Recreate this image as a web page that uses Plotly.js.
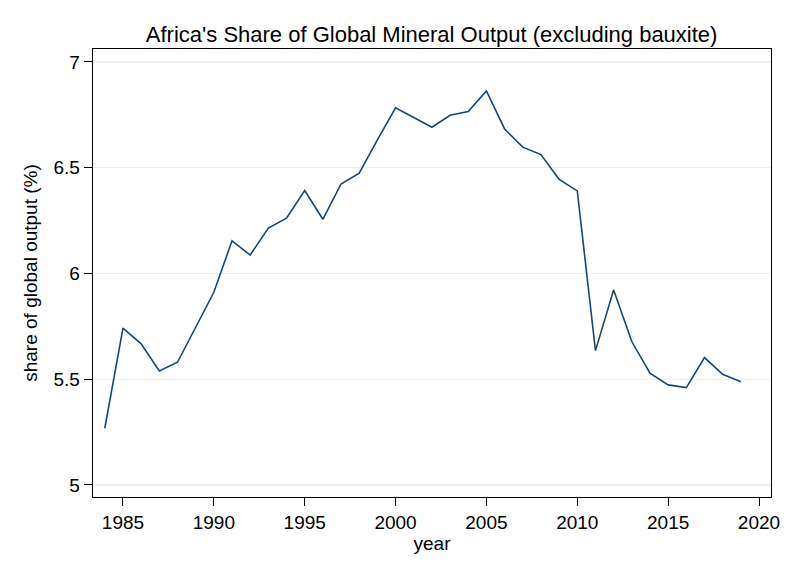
<!DOCTYPE html>
<html>
<head>
<meta charset="utf-8">
<script src="https://cdn.plot.ly/plotly-3.0.1.min.js"></script>
<style>html,body{margin:0;padding:0;background:#fff;}#chart{width:792px;height:576px;}</style>
</head>
<body>
<div id="chart"></div>
<script>
var years = [1984,1985,1986,1987,1988,1989,1990,1991,1992,1993,1994,1995,1996,1997,1998,1999,2000,2001,2002,2003,2004,2005,2006,2007,2008,2009,2010,2011,2012,2013,2014,2015,2016,2017,2018,2019];
var share = [5.268,5.741,5.667,5.539,5.580,5.745,5.911,6.154,6.087,6.214,6.261,6.392,6.256,6.423,6.474,6.631,6.783,6.737,6.691,6.748,6.765,6.863,6.683,6.597,6.562,6.445,6.390,5.635,5.922,5.678,5.528,5.473,5.460,5.602,5.523,5.488];
var xTicks = [1985,1990,1995,2000,2005,2010,2015,2020];
var yTicks = [5,5.5,6,6.5,7];
var yTickText = ["5","5.5","6","6.5","7"];

var font = "Liberation Sans, Arial, Helvetica, sans-serif";
var trace = {
  x: years, y: share, type: "scatter", mode: "lines",
  line: {color: "#1a476f", width: 1.6},
  hoverinfo: "x+y"
};
var layout = {
  width: 792, height: 576,
  margin: {l: 93, r: 21, t: 49, b: 79},
  paper_bgcolor: "#ffffff", plot_bgcolor: "#ffffff",
  font: {family: font, color: "#000000", size: 19},
  title: {text: "Africa's Share of Global Mineral Output (excluding bauxite)", font: {size: 22, family: font, color: "#000"}, x: 0.545, xanchor: "center", y: 0.94, yanchor: "middle"},
  showlegend: false,
  xaxis: {
    range: [1983.35, 2020.66], tickvals: xTicks, ticktext: xTicks.map(String),
    ticks: "outside", ticklen: 8, tickcolor: "#000", tickwidth: 1,
    showgrid: false, zeroline: false,
    showline: true, linecolor: "#000", linewidth: 1.3, mirror: true,
    tickfont: {size: 19, family: font},
    title: {text: "year", font: {size: 19, family: font}, standoff: 2}
  },
  yaxis: {
    range: [4.943, 7.061], tickvals: yTicks, ticktext: yTickText,
    ticks: "outside", ticklen: 8, tickcolor: "#000", tickwidth: 1,
    showgrid: true, gridcolor: "#eaf2f3", gridwidth: 1.3, zeroline: false,
    showline: true, linecolor: "#000", linewidth: 1.3, mirror: true,
    tickfont: {size: 19, family: font},
    title: {text: "share of global output (%)", font: {size: 19, family: font}, standoff: 10}
  }
};
Plotly.newPlot("chart", [trace], layout, {displayModeBar: false, staticPlot: true});
</script>
</body>
</html>
